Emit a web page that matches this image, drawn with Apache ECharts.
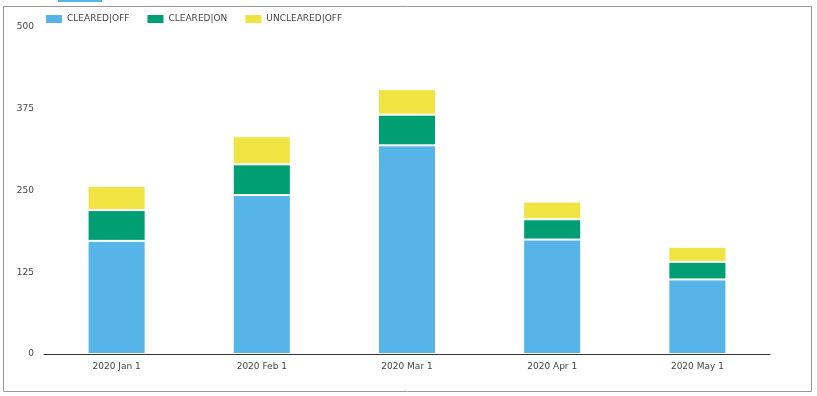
<!DOCTYPE html>
<html><head><meta charset="utf-8">
<script src="https://cdn.jsdelivr.net/npm/echarts@6/dist/echarts.min.js"></script>
<style>html,body{margin:0;padding:0;background:#fff}#c{width:817px;height:396px}</style>
</head><body><div id="c"></div>
<script>
var categories = ['2020 Jan 1','2020 Feb 1','2020 Mar 1','2020 Apr 1','2020 May 1'];
var clearedOff = [173, 243, 319, 175, 114];
var clearedOn = [47, 47, 47, 31, 27];
var unclearedOff = [37, 43, 39, 27, 23];
var yTicks = [0, 125, 250, 375, 500];
var seriesNames = ['CLEARED|OFF','CLEARED|ON','UNCLEARED|OFF'];
var colors = ['#56B4E9','#009E73','#F0E442'];
var font = 'DejaVu Sans, Verdana, sans-serif';

var chart = echarts.init(document.getElementById('c'), null, {renderer:'canvas'});
var data = [clearedOff, clearedOn, unclearedOff];
chart.setOption({
  animation:false,
  color: colors,
  graphic:[
    {type:'rect', shape:{x:3.5,y:6.5,width:808,height:385}, style:{fill:'none',stroke:'#999',lineWidth:1}, silent:true},
    {type:'rect', shape:{x:58,y:0,width:44,height:2}, style:{fill:'#56B4E9'}, silent:true}
  ],
  legend:{
    left:44, top:13, padding:0, itemWidth:18, itemHeight:10, itemGap:16,
    icon:'rect',
    textStyle:{fontSize:9, color:'#444', fontFamily:font, padding:[0,0,0,-1]},
    data: seriesNames
  },
  grid:{left:44, right:47, top:27, bottom:42, containLabel:false},
  xAxis:{
    type:'category', data: categories,
    axisLine:{lineStyle:{color:'#333', width:1}},
    axisTick:{show:false},
    axisLabel:{fontSize:9, color:'#444', fontFamily:font, margin:8}
  },
  yAxis:{
    type:'value', min:0, max:500, interval:125,
    axisLine:{show:false}, axisTick:{show:false},
    splitLine:{show:false},
    axisLabel:{fontSize:9, color:'#444', fontFamily:font, margin:10}
  },
  series: seriesNames.map(function(n,i){
    return {name:n, type:'bar', stack:'s', barWidth:'40%', data:data[i],
      itemStyle:{borderColor:'#fff', borderWidth:1}};
  })
});
</script></body></html>
